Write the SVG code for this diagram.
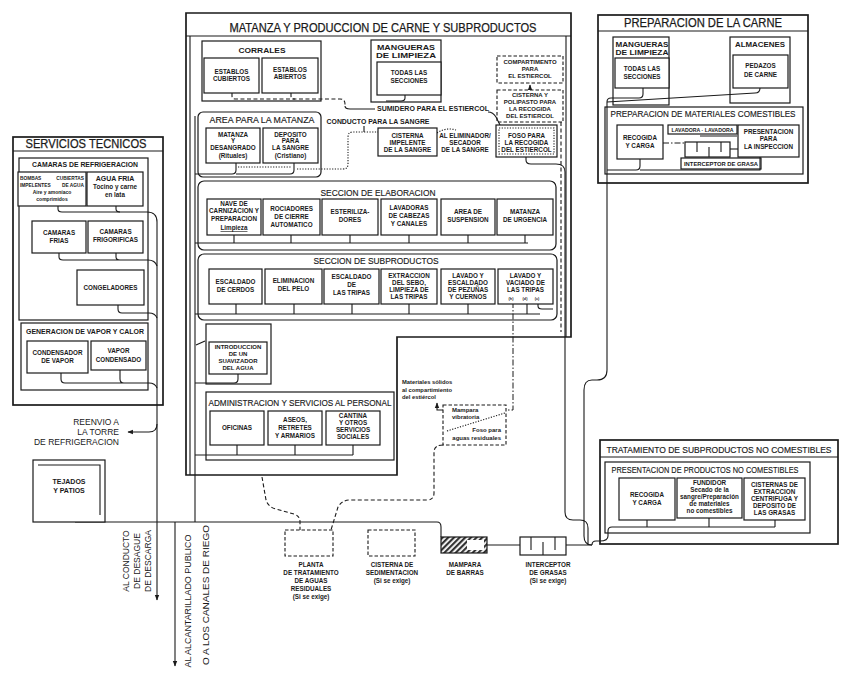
<svg xmlns="http://www.w3.org/2000/svg" width="850" height="677" viewBox="0 0 850 677">
<defs>
<marker id="ah" viewBox="0 0 10 10" refX="9" refY="5" markerWidth="5" markerHeight="5" orient="auto"><path d="M0,1 L10,5 L0,9 Z" fill="#1a1a1a"/></marker>
<pattern id="hatch" width="4" height="4" patternUnits="userSpaceOnUse" patternTransform="rotate(45)"><rect width="4" height="4" fill="#fff"/><rect width="2.2" height="4" fill="#333"/></pattern>
<style>
.c{fill:none;stroke:#1a1a1a;stroke-width:1.2}
.ck{fill:none;stroke:#1a1a1a;stroke-width:1.7}
.b{fill:#fff;stroke:#1a1a1a;stroke-width:1.2}
.bd{fill:none;stroke:#1a1a1a;stroke-width:1.1;stroke-dasharray:3.5 2}
.l{fill:none;stroke:#1a1a1a;stroke-width:1.1}
.dl{fill:none;stroke:#1a1a1a;stroke-width:1.1;stroke-dasharray:4 2.5}
.dt{fill:none;stroke:#1a1a1a;stroke-width:1.1;stroke-dasharray:1.2 1.5}
.dd{fill:none;stroke:#1a1a1a;stroke-width:1;stroke-dasharray:6 2 1.5 2}
text{font-family:"Liberation Sans",Arial,Helvetica,sans-serif;fill:#1a1a1a}
.t{font-size:6.3px;font-weight:bold;text-anchor:middle}
.tl{font-size:6.3px;font-weight:bold;text-anchor:start}
.te{font-size:6px;font-weight:bold;text-anchor:end}
.tn{font-size:6px;font-weight:bold;text-anchor:middle}
.s{font-size:9px;text-anchor:middle;stroke:#1a1a1a;stroke-width:0.15}
.sb{font-size:8px;font-weight:bold;text-anchor:middle}
.h{font-size:12px;text-anchor:middle;stroke:#1a1a1a;stroke-width:0.25}
.r{font-size:9px;text-anchor:middle}
</style>
</defs>
<rect width="850" height="677" fill="#fff"/>

<!-- ===== containers ===== -->
<g id="matanza-produccion">
<path class="ck" d="M186,13 H571 V337 H397 V475 H186 Z"/>
<line class="l" x1="186" y1="36" x2="571" y2="36"/>
<path class="l" d="M190,36 V475 M566,36 V337"/>
<text class="h" x="383" y="32" textLength="307" lengthAdjust="spacingAndGlyphs">MATANZA Y PRODUCCION DE CARNE Y SUBPRODUCTOS</text>
</g>
<g id="corrales">
<rect class="c" x="202" y="41" width="119" height="60"/>
<text class="sb" x="262" y="53" textLength="47" lengthAdjust="spacingAndGlyphs">CORRALES</text>
</g>
<g id="mangueras-matanza">
<rect class="c" x="371" y="40" width="70" height="62"/>
<text class="sb" x="406" y="50" textLength="58" lengthAdjust="spacingAndGlyphs">MANGUERAS</text>
<text class="sb" x="406" y="58" textLength="60" lengthAdjust="spacingAndGlyphs">DE LIMPIEZA</text>
</g>
<g id="area-matanza">
<rect class="c" x="198" y="112" width="123" height="65" rx="5"/>
<text class="s" x="262" y="123" textLength="105" lengthAdjust="spacingAndGlyphs">AREA PARA LA MATANZA</text>
</g>
<g id="seccion-elaboracion">
<rect class="c" x="198" y="181" width="358" height="69" rx="6"/>
<text class="s" x="378" y="196" textLength="115" lengthAdjust="spacingAndGlyphs">SECCION DE ELABORACION</text>
</g>
<g id="seccion-subproductos">
<rect class="c" x="198" y="254" width="359" height="66" rx="6"/>
<text class="s" x="376" y="264" textLength="125" lengthAdjust="spacingAndGlyphs">SECCION DE SUBPRODUCTOS</text>
</g>
<g id="suavizador">
<rect class="c" x="206" y="324" width="65" height="60"/>
</g>
<g id="administracion">
<rect class="c" x="206" y="392" width="188" height="68"/>
<text class="s" x="300" y="406" textLength="183" lengthAdjust="spacingAndGlyphs">ADMINISTRACION Y SERVICIOS AL PERSONAL</text>
</g>
<g id="servicios-tecnicos">
<rect class="ck" x="13" y="137" width="150" height="268"/>
<line class="l" x1="13" y1="151" x2="163" y2="151"/>
<text class="h" x="86" y="148" textLength="121" lengthAdjust="spacingAndGlyphs">SERVICIOS TECNICOS</text>
</g>
<g id="camaras-refrigeracion">
<rect class="c" x="19" y="158" width="129" height="162"/>
<text class="sb" x="85" y="167" style="font-size:7px" textLength="106" lengthAdjust="spacingAndGlyphs">CAMARAS DE REFRIGERACION</text>
</g>
<g id="generacion-vapor">
<rect class="c" x="21" y="323" width="127" height="67"/>
<text class="sb" x="85" y="334" style="font-size:7px" textLength="118" lengthAdjust="spacingAndGlyphs">GENERACION DE VAPOR Y CALOR</text>
</g>
<g id="preparacion-carne">
<rect class="ck" x="598" y="15" width="210" height="168"/>
<line class="l" x1="598" y1="31" x2="808" y2="31"/>
<text class="h" x="703" y="27" textLength="158" lengthAdjust="spacingAndGlyphs">PREPARACION DE LA CARNE</text>
</g>
<g id="mangueras-preparacion">
<rect class="c" x="613" y="37" width="56" height="68"/>
<text class="sb" x="642" y="47" textLength="53" lengthAdjust="spacingAndGlyphs">MANGUERAS</text>
<text class="sb" x="642" y="55" textLength="53" lengthAdjust="spacingAndGlyphs">DE LIMPIEZA</text>
</g>
<g id="almacenes">
<rect class="c" x="730" y="37" width="60" height="66"/>
<text class="sb" x="760" y="47" textLength="50" lengthAdjust="spacingAndGlyphs">ALMACENES</text>
</g>
<g id="materiales-comestibles">
<rect class="c" x="605" y="107" width="198" height="67"/>
<text class="s" x="703" y="117" textLength="185" lengthAdjust="spacingAndGlyphs">PREPARACION DE MATERIALES COMESTIBLES</text>
</g>
<g id="tratamiento-subproductos">
<rect class="ck" x="600" y="440" width="238" height="104"/>
<line class="l" x1="600" y1="457" x2="838" y2="457"/>
<text class="s" x="719" y="453" style="font-size:8.4px" textLength="225" lengthAdjust="spacingAndGlyphs">TRATAMIENTO DE SUBPRODUCTOS NO COMESTIBLES</text>
</g>
<g id="presentacion-no-comestibles">
<rect class="c" x="605" y="462" width="205" height="71"/>
<text class="s" x="705" y="473" textLength="187" lengthAdjust="spacingAndGlyphs">PRESENTACION DE PRODUCTOS NO COMESTIBLES</text>
</g>

<!-- ===== connectors ===== -->
<g id="connectors">
<path class="l" d="M58,206 V209 Q58,212 62,212 H147 Q157,212 157,222 V600" marker-end="url(#ah)"/>
<path class="l" d="M116,206 V209 Q116,212 120,212"/>
<path class="l" d="M59,253 V257 Q59,260 63,260 H148 Q155,260 157,266 M116,253 V257 Q116,260 120,260"/>
<path class="l" d="M118,305 V309 Q118,313 122,313 H149 Q155,313 157,318"/>
<path class="l" d="M61,373 V379 Q61,383 65,383 H149 Q155,383 157,388 M120,370 V379 Q120,383 124,383"/>
<path class="l" d="M157,424 Q157,432 149,432 H128" marker-end="url(#ah)"/>
<path class="l" d="M75,522 H437 Q441,522 441,527 V537"/>
<path class="l" d="M175,522 V666" marker-end="url(#ah)"/>
<path class="l" d="M487,545 H520 M566,545 H592"/>
<path class="l" d="M195,116 V522"/>
<path class="dl" d="M232,93 V96 Q232,99 236,99 H340 Q345,99 345,104 V106"/>
<path class="dl" d="M291,93 V96 Q291,99 295,99"/>
<path class="l" d="M345,106 Q345,109 350,109 H375"/>
<path class="l" d="M405,95 V98 Q405,101 401,101 H386"/>
<path class="l" d="M488,112 Q493,112 496,117 L500,125"/>
<path class="l" d="M530,90 V85" marker-end="url(#ah)"/>
<path class="l" d="M236,163 V170 Q236,174 232,174 H195 M294,163 V170 Q294,174 290,174 H236"/>
<path class="dt" d="M238,167 H292 M297,169 H343 Q348,169 348,164 V137 Q348,132 353,132 H378 M437,133 Q446,127 456,130"/>
<path class="l" d="M364,126 V132"/>
<path class="l" d="M526,157 V160 Q526,164 531,164 H556 Q565,164 565,172 V512 Q565,520 573,520 H580 Q588,520 588,528 V545"/>
<path class="dl" d="M561,122 V332"/>
<path class="l" d="M195,243 H528 M234,235 V243 M291,235 V243 M350,235 V243 M409,235 V243 M468,235 V243 M525,235 V243"/>
<path class="l" d="M195,314 H540 M236,304 V314 M294,304 V314 M352,304 V314 M409,304 V314 M468,304 V314 M527,304 V314"/>
<path class="l" d="M538,302 V306 Q538,309 542,309 H553"/>
<path class="dd" d="M513,302 V410 H506"/>
<path class="l" d="M238,374 V379 Q238,383 234,383 H195"/>
<path class="l" d="M196,345 L205,341"/>
<path class="l" d="M195,455 H353 M237,445 V455 M295,445 V455 M353,445 V455"/>
<path class="l" d="M443,410 H437 V403" marker-end="url(#ah)"/>
<path class="dl" d="M443,445 Q435,445 434,451 V493 Q434,500 427,500 H350 Q342,500 338,507 L331,530"/>
<path class="dl" d="M262,477 L266,500 Q268,507 276,509 L294,514 Q300,516 300,522 V530"/>
<path class="l" d="M643,88 V94 Q643,98 639,98 H611 Q607,98 607,102 V370 Q607,380 597,380 H592 Q584,380 584,390 V536 Q584,545 592,545"/>
<path class="l" d="M607,102 L755,93 Q760,93 760,88"/>
<path class="l" d="M640,159 V166 Q640,170 636,170 H607 M640,170 H760 V157"/>
<path class="l" d="M700,136 H737"/>
<path class="dd" d="M663,143 H685"/>
<path class="l" d="M730,149 H738"/>
<path class="l" d="M647,520 V527 M709,518 V527 M775,520 V527 M775,527 H612 Q608,527 608,531 V536 Q608,541 600,541 H596 Q592,541 592,545"/>
</g>

<!-- ===== leaf nodes ===== -->
<g id="bombas">
<rect class="b" x="18" y="172" width="68" height="34" stroke-width="2"/>
<text class="tl" x="20" y="180" style="font-size:4.8px">BOMBAS</text><text class="te" x="84" y="180" style="font-size:4.8px">CUBIERTAS</text>
<text class="tl" x="20" y="187" style="font-size:4.8px">IMPELENTES</text><text class="te" x="84" y="187" style="font-size:4.8px">DE AGUA</text>
<text class="t" x="52" y="194" style="font-size:5px">Aire y amoníaco</text>
<text class="t" x="52" y="201" style="font-size:5px">comprimidos</text>
</g>
<g id="agua-fria">
<rect class="b" x="87" y="172" width="56" height="34"/>
<text class="t" x="115" y="181" style="font-size:7px">AGUA FRIA</text>
<text class="t" x="115" y="189" style="font-size:6.3px">Tocino y carne</text>
<text class="t" x="115" y="197" style="font-size:6.3px">en lata</text>
</g>
<g id="camaras-frias">
<rect class="b" x="32" y="221" width="54" height="32"/>
<text class="t" x="59" y="235">CAMARAS</text><text class="t" x="59" y="243">FRIAS</text>
</g>
<g id="camaras-frigorificas">
<rect class="b" x="88" y="221" width="55" height="32"/>
<text class="t" x="115.5" y="234">CAMARAS</text><text class="t" x="115.5" y="242">FRIGORIFICAS</text>
</g>
<g id="congeladores">
<rect class="b" x="77" y="270" width="67" height="35"/>
<text class="t" x="110.5" y="290">CONGELADORES</text>
</g>
<g id="condensador-vapor">
<rect class="b" x="27" y="341" width="61" height="32"/>
<text class="t" x="57.5" y="355">CONDENSADOR</text><text class="t" x="57.5" y="363">DE VAPOR</text>
</g>
<g id="vapor-condensado">
<rect class="b" x="91" y="341" width="55" height="29"/>
<text class="t" x="118.5" y="353">VAPOR</text><text class="t" x="118.5" y="362">CONDENSADO</text>
</g>
<g id="reenvio-torre">
<text style="font-size:8.5px;text-anchor:end" x="119" y="425">REENVIO A</text>
<text style="font-size:8.5px;text-anchor:end" x="119" y="435">LA TORRE</text>
<text style="font-size:8.5px;text-anchor:end" x="119" y="445">DE REFRIGERACION</text>
</g>
<g id="tejados-patios">
<rect class="b" x="33" y="460" width="72" height="62"/>
<path class="l" d="M38,465 H100 V515"/>
<text class="t" x="69" y="484" style="font-size:7px">TEJADOS</text><text class="t" x="69" y="493" style="font-size:7px">Y PATIOS</text>
</g>
<g id="desague-descarga">
<text class="r" transform="translate(129,561) rotate(-90)" style="font-size:8.5px">AL CONDUCTO</text>
<text class="r" transform="translate(140,561) rotate(-90)" style="font-size:8.5px">DE DESAGUE</text>
<text class="r" transform="translate(151,561) rotate(-90)" style="font-size:8.5px">DE DESCARGA</text>
</g>
<g id="alcantarillado">
<text class="r" transform="translate(191,601) rotate(-90)" textLength="133" lengthAdjust="spacingAndGlyphs">AL ALCANTARILLADO PUBLICO</text>
<text class="r" transform="translate(209,595) rotate(-90)" textLength="140" lengthAdjust="spacingAndGlyphs">O A LOS CANALES DE RIEGO</text>
</g>

<g id="establos-cubiertos">
<rect class="b" x="204" y="58" width="55" height="35"/>
<text class="t" x="231.5" y="74">ESTABLOS</text><text class="t" x="231.5" y="81">CUBIERTOS</text>
</g>
<g id="establos-abiertos">
<rect class="b" x="262" y="58" width="56" height="35"/>
<text class="t" x="290" y="72">ESTABLOS</text><text class="t" x="290" y="79">ABIERTOS</text>
</g>
<g id="todas-secciones-matanza">
<rect class="b" x="377" y="62" width="64" height="33"/>
<text class="t" x="409" y="75">TODAS LAS</text><text class="t" x="409" y="83">SECCIONES</text>
</g>
<g id="sumidero-label">
<text class="tl" x="377" y="111" style="font-size:6.8px" textLength="112" lengthAdjust="spacingAndGlyphs">SUMIDERO PARA EL ESTIERCOL</text>
</g>
<g id="compartimento-estiercol">
<rect class="bd" x="497" y="56" width="66" height="27"/>
<text class="tn" x="530" y="64">COMPARTIMENTO</text><text class="tn" x="530" y="71">PARA</text><text class="tn" x="530" y="78">EL ESTIERCOL</text>
</g>
<g id="cisterna-polipasto">
<rect class="bd" x="497" y="90" width="66" height="32"/>
<text class="tn" x="530" y="97">CISTERNA Y</text><text class="tn" x="530" y="104">POLIPASTO PARA</text><text class="tn" x="530" y="111">LA RECOGIDA</text><text class="tn" x="530" y="118">DEL ESTIERCOL</text>
</g>
<g id="conducto-label">
<text class="t" x="378" y="124" style="font-size:6.6px" textLength="103" lengthAdjust="spacingAndGlyphs">CONDUCTO PARA LA SANGRE</text>
</g>
<g id="matanza-desangrado">
<rect class="b" x="206" y="128" width="54" height="35"/>
<text class="t" x="233" y="137">MATANZA</text><text class="t" x="233" y="143">Y</text><text class="t" x="233" y="150">DESANGRADO</text><text class="t" x="233" y="158">(Rituales)</text>
</g>
<g id="deposito-sangre">
<rect class="b" x="263" y="128" width="55" height="35"/>
<text class="t" x="290.5" y="137">DEPOSITO</text><text class="t" x="290.5" y="143">PARA</text><text class="t" x="290.5" y="150">LA SANGRE</text><text class="t" x="290.5" y="158">(Cristiano)</text>
</g>
<g id="cisterna-impelente">
<rect class="b" x="378" y="128" width="59" height="28"/>
<text class="t" x="407.5" y="138">CISTERNA</text><text class="t" x="407.5" y="145">IMPELENTE</text><text class="t" x="407.5" y="152">DE LA SANGRE</text>
</g>
<g id="eliminador-secador">
<text class="t" x="465" y="138">AL ELIMINADOR/</text><text class="t" x="465" y="145">SECADOR</text><text class="t" x="465" y="152">DE LA SANGRE</text>
</g>
<g id="foso-estiercol">
<rect class="b" x="496" y="125" width="61" height="32" stroke-width="1.5"/>
<rect x="499" y="128" width="55" height="26" class="dt"/>
<text class="t" x="526.5" y="138">FOSO PARA</text><text class="t" x="526.5" y="145">LA RECOGIDA</text><text class="t" x="526.5" y="152">DEL ESTIERCOL</text>
</g>

<g id="nave-carnizacion">
<rect class="b" x="207" y="199" width="54" height="36"/>
<text class="t" x="234" y="206">NAVE DE</text><text class="t" x="234" y="213">CARNIZACION Y</text><text class="t" x="234" y="221">PREPARACION</text><text class="t" x="234" y="230" text-decoration="underline">Limpieza</text>
</g>
<g id="rociadores">
<rect class="b" x="263" y="199" width="57" height="36"/>
<text class="t" x="291.5" y="211">ROCIADORES</text><text class="t" x="291.5" y="219">DE CIERRE</text><text class="t" x="291.5" y="227">AUTOMATICO</text>
</g>
<g id="esterilizadores">
<rect class="b" x="322" y="199" width="56" height="36"/>
<text class="t" x="350" y="214">ESTERILIZA-</text><text class="t" x="350" y="222">DORES</text>
</g>
<g id="lavadoras-cabezas">
<rect class="b" x="381" y="199" width="56" height="36"/>
<text class="t" x="409" y="210">LAVADORAS</text><text class="t" x="409" y="218">DE CABEZAS</text><text class="t" x="409" y="226">Y CANALES</text>
</g>
<g id="area-suspension">
<rect class="b" x="441" y="199" width="54" height="36"/>
<text class="t" x="468" y="214">AREA DE</text><text class="t" x="468" y="222">SUSPENSION</text>
</g>
<g id="matanza-urgencia">
<rect class="b" x="497" y="199" width="56" height="36"/>
<text class="t" x="525" y="214">MATANZA</text><text class="t" x="525" y="222">DE URGENCIA</text>
</g>

<g id="escaldado-cerdos">
<rect class="b" x="209" y="269" width="53" height="35"/>
<text class="t" x="235.5" y="284">ESCALDADO</text><text class="t" x="235.5" y="292">DE CERDOS</text>
</g>
<g id="eliminacion-pelo">
<rect class="b" x="265" y="269" width="57" height="35"/>
<text class="t" x="293.5" y="283">ELIMINACION</text><text class="t" x="293.5" y="291">DEL PELO</text>
</g>
<g id="escaldado-tripas">
<rect class="b" x="324" y="269" width="55" height="35"/>
<text class="t" x="351.5" y="279">ESCALDADO</text><text class="t" x="351.5" y="287">DE</text><text class="t" x="351.5" y="295">LAS TRIPAS</text>
</g>
<g id="extraccion-sebo">
<rect class="b" x="381" y="269" width="56" height="35"/>
<text class="t" x="409" y="278">EXTRACCION</text><text class="t" x="409" y="285">DEL SEBO,</text><text class="t" x="409" y="292">LIMPIEZA DE</text><text class="t" x="409" y="299">LAS TRIPAS</text>
</g>
<g id="lavado-pezunas">
<rect class="b" x="441" y="269" width="54" height="35"/>
<text class="t" x="468" y="278">LAVADO Y</text><text class="t" x="468" y="285">ESCALDADO</text><text class="t" x="468" y="292">DE PEZUÑAS</text><text class="t" x="468" y="299">Y CUERNOS</text>
</g>
<g id="lavado-vaciado">
<rect class="b" x="498" y="269" width="55" height="35"/>
<text class="t" x="525.5" y="278">LAVADO Y</text><text class="t" x="525.5" y="285">VACIADO DE</text><text class="t" x="525.5" y="292">LAS TRIPAS</text>
<text class="t" x="511" y="300" style="font-size:3.8px">(h)</text><text class="t" x="525" y="300" style="font-size:3.8px">(d)</text><text class="t" x="537" y="300" style="font-size:3.8px">(c)</text>
</g>

<g id="introduccion-suavizador">
<rect class="b" x="209" y="342" width="58" height="32"/>
<text class="t" x="238" y="349" style="font-size:6px">INTRODUCCION</text><text class="t" x="238" y="356" style="font-size:6px">DE UN</text><text class="t" x="238" y="363" style="font-size:6px">SUAVIZADOR</text><text class="t" x="238" y="370" style="font-size:6px">DEL AGUA</text>
</g>
<g id="oficinas">
<rect class="b" x="210" y="411" width="54" height="34"/>
<text class="t" x="237" y="430">OFICINAS</text>
</g>
<g id="aseos">
<rect class="b" x="268" y="411" width="54" height="34"/>
<text class="t" x="295" y="422">ASEOS,</text><text class="t" x="295" y="430">RETRETES</text><text class="t" x="295" y="438">Y ARMARIOS</text>
</g>
<g id="cantina">
<rect class="b" x="326" y="411" width="54" height="34"/>
<text class="t" x="353" y="418">CANTINA</text><text class="t" x="353" y="425">Y OTROS</text><text class="t" x="353" y="432">SERVICIOS</text><text class="t" x="353" y="439">SOCIALES</text>
</g>

<g id="materiales-solidos">
<text class="tl" x="402" y="384" style="font-size:5.8px">Materiales sólidos</text>
<text class="tl" x="402" y="391.5" style="font-size:5.8px">al compartimiento</text>
<text class="tl" x="402" y="399" style="font-size:5.8px">del estiércol</text>
</g>
<g id="mampara-vibratoria">
<rect class="bd" x="443" y="405" width="63" height="40"/>
<path class="dt" d="M447,431 L505,413"/>
<text class="tl" x="452" y="412" style="font-size:6px">Mampara</text>
<text class="tl" x="452" y="419" style="font-size:6px">vibratoria</text>
<text class="te" x="501" y="432">Foso para</text>
<text class="te" x="501" y="440">aguas residuales</text>
</g>

<g id="planta-tratamiento">
<rect class="bd" x="285" y="530" width="48" height="26"/>
<text class="t" x="311" y="567">PLANTA</text><text class="t" x="311" y="575">DE TRATAMIENTO</text><text class="t" x="311" y="583">DE AGUAS</text><text class="t" x="311" y="591">RESIDUALES</text><text class="t" x="311" y="599">(Si se exige)</text>
</g>
<g id="cisterna-sedimentacion">
<rect class="bd" x="368" y="530" width="47" height="26"/>
<text class="t" x="392" y="567">CISTERNA DE</text><text class="t" x="392" y="575">SEDIMENTACION</text><text class="t" x="392" y="583">(Si se exige)</text>
</g>
<g id="mampara-barras">
<rect x="441" y="537" width="46" height="16" fill="url(#hatch)" stroke="#1a1a1a" stroke-width="1.2"/>
<rect x="467" y="540" width="17" height="10" fill="#fff"/>
<text class="t" x="465" y="567">MAMPARA</text><text class="t" x="465" y="575">DE BARRAS</text>
</g>
<g id="interceptor-grasas">
<rect class="b" x="520" y="537" width="46" height="18" stroke-width="1.5"/>
<path class="l" d="M531,537 V550 M543,542 V555 M555,537 V550" stroke-width="1.5"/>
<text class="t" x="548" y="567">INTERCEPTOR</text><text class="t" x="548" y="575">DE GRASAS</text><text class="t" x="548" y="583">(Si se exige)</text>
</g>

<g id="todas-secciones-preparacion">
<rect class="b" x="615" y="58" width="54" height="30"/>
<text class="t" x="642" y="71">TODAS LAS</text><text class="t" x="642" y="79">SECCIONES</text>
</g>
<g id="pedazos-carne">
<rect class="b" x="733" y="55" width="55" height="33"/>
<text class="t" x="760.5" y="68">PEDAZOS</text><text class="t" x="760.5" y="77">DE CARNE</text>
</g>
<g id="recogida-carga-comestibles">
<rect class="b" x="617" y="125" width="46" height="34"/>
<text class="t" x="640" y="140">RECOGIDA</text><text class="t" x="640" y="148">Y CARGA</text>
</g>
<g id="lavadora">
<rect class="b" x="668" y="125" width="69" height="9"/>
<text class="t" x="702.5" y="132" style="font-size:5px" textLength="62" lengthAdjust="spacingAndGlyphs">LAVADORA · LAVADORA</text>
</g>
<g id="interceptor-grasa">
<rect class="b" x="685" y="142" width="45" height="15" stroke-width="1.5"/>
<path class="l" d="M697,142 V152 M709,147 V157 M721,142 V152" stroke-width="1.5"/>
<rect class="c" x="681" y="158" width="80" height="11" stroke-width="1"/>
<text class="t" x="721" y="166" style="font-size:5px" textLength="74" lengthAdjust="spacingAndGlyphs">INTERCEPTOR DE GRASA</text>
</g>
<g id="presentacion-inspeccion">
<rect class="b" x="738" y="125" width="61" height="32"/>
<text class="t" x="768.5" y="134">PRESENTACION</text><text class="t" x="768.5" y="141">PARA</text><text class="t" x="768.5" y="149">LA INSPECCION</text>
</g>

<g id="recogida-carga-no-comestibles">
<rect class="b" x="619" y="478" width="56" height="42"/>
<text class="t" x="647" y="497">RECOGIDA</text><text class="t" x="647" y="505">Y CARGA</text>
</g>
<g id="fundidor">
<rect class="b" x="677" y="478" width="65" height="40"/>
<text class="t" x="709.5" y="485">FUNDIDOR</text><text class="t" x="709.5" y="492">Secado de la</text><text class="t" x="709.5" y="499">sangre/Preparación</text><text class="t" x="709.5" y="506">de materiales</text><text class="t" x="709.5" y="513">no comestibles</text>
</g>
<g id="cisternas-extraccion">
<rect class="b" x="744" y="478" width="61" height="42"/>
<text class="t" x="774.5" y="487">CISTERNAS DE</text><text class="t" x="774.5" y="494">EXTRACCION</text><text class="t" x="774.5" y="501">CENTRIFUGA Y</text><text class="t" x="774.5" y="508">DEPOSITO DE</text><text class="t" x="774.5" y="515">LAS GRASAS</text>
</g>
</svg>
